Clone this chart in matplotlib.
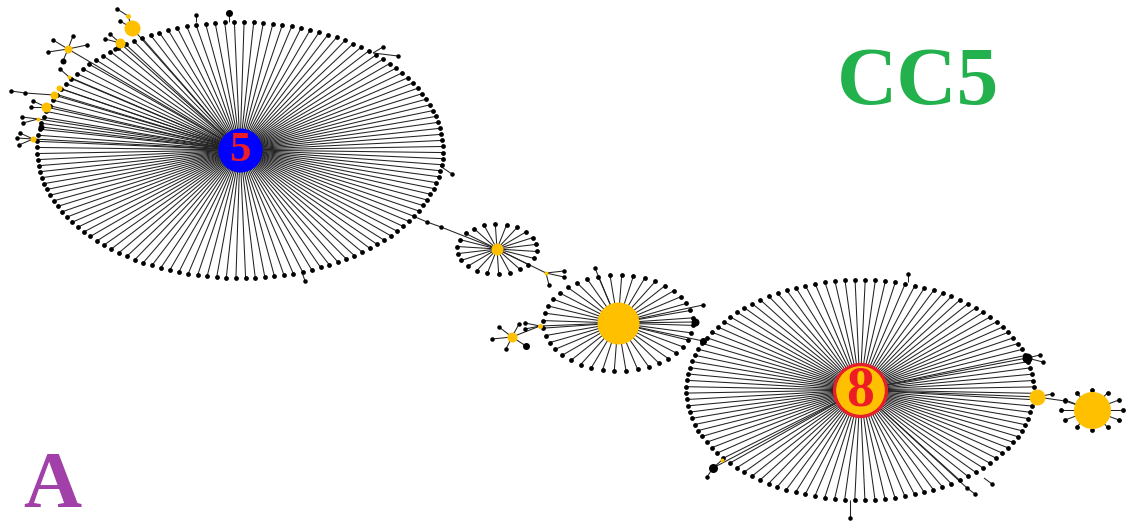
import numpy as np
import matplotlib
matplotlib.use("Agg")
import matplotlib.pyplot as plt
from matplotlib.collections import LineCollection

W, H = 1129, 525

# ---- star clusters: hub node + ring of leaf nodes (pixel layout) ----
hub_x = [240, 497, 618, 860, 1092]
hub_y = [150, 249, 323, 390, 410]
hub_d = [44, 12, 42, 52, 37]
hub_color = ["#0000FF", "#FFC000", "#FFC000", "#FFC000", "#FFC000"]
hub_edge = ["#0000FF", "#FFC000", "#FFC000", "#E4202C", "#FFC000"]
hub_label = ["5", "", "", "8", ""]
ring_rx = [203, 40, 75, 174, 31]
ring_ry = [128, 25, 48, 110, 20]
ring_n = [132, 22, 40, 108, 12]
ring_phase = [0.02, 0.1, 0.05, 0.03, 0.0]

# ---- satellite nodes (attached to a parent node) ----
sat_px = [240, 132, 128, 132, 240, 120, 120, 120, 240, 68, 68, 68, 68, 68,
          240, 69, 240, 240, 54, 25, 240, 46, 46, 240, 38, 38, 240, 240, 33, 33, 33,
          229, 196, 373, 373, 440, 302,
          413, 427, 441, 497, 546, 546, 546, 618, 540, 540, 540, 512, 512, 512, 512, 512,
          618, 618, 618, 618,
          860, 860, 1027, 1027, 1037, 1037, 1065, 860, 850, 908, 713, 713, 860, 967, 984]
sat_py = [150, 28, 16, 28, 150, 43, 43, 43, 150, 49, 49, 49, 49, 49,
          150, 77, 150, 150, 95, 93, 150, 107, 107, 150, 119, 119, 150, 150, 139, 139, 139,
          22, 22, 53, 53, 166, 272,
          216, 222, 227, 249, 273, 273, 273, 323, 326, 326, 326, 337, 337, 337, 337, 337,
          323, 323, 323, 323,
          390, 390, 358, 358, 397, 397, 401, 390, 500, 282, 468, 468, 390, 488, 478]
sat_x = [132, 128, 117, 120, 120, 110, 105, 115, 68, 53, 73, 87, 48, 63,
         69, 60, 59, 54, 25, 11, 46, 33, 31, 38, 22, 23, 41, 33, 20, 17, 19,
         229, 196, 383, 398, 452, 305,
         427, 441, 497, 546, 564, 564, 549, 540, 525, 525, 512, 499, 519, 492, 506, 526,
         595, 695, 703, 703,
         1027, 1037, 1040, 1043, 1052, 1065, 1092, 713, 850, 908, 707, 722, 967, 975, 992]
sat_y = [28, 16, 9, 21, 43, 34, 39, 49, 49, 40, 36, 45, 52, 61,
         77, 69, 88, 95, 93, 91, 107, 101, 107, 119, 117, 123, 127, 139, 133, 138, 145,
         13, 15, 47, 56, 174, 281,
         222, 227, 249, 273, 271, 277, 285, 326, 323, 329, 337, 327, 324, 339, 349, 346,
         268, 322, 305, 341,
         358, 397, 355, 362, 394, 401, 410, 468, 518, 274, 477, 460, 488, 494, 484]
sat_d = [16, 5, 4.5, 4.5, 10, 4.5, 4.5, 4.5, 8, 4.5, 4.5, 4.5, 4.5, 6,
         4, 4.5, 6, 8, 4.5, 4.5, 10, 4.5, 4.5, 4, 4.5, 4.5, 6, 6, 4.5, 4.5, 4.5,
         7, 4.5, 4.5, 4.5, 4.5, 4.5,
         4.5, 4.5, 0, 4, 4.5, 4.5, 4.5, 5, 4.5, 4.5, 10, 4.5, 4.5, 4.5, 4.5, 7,
         4.5, 8, 4.5, 7,
         10, 16, 4.5, 4.5, 4.5, 4.5, 0, 9, 4.5, 4.5, 4.5, 4, 4.5, 4.5, 4.5]
sat_yellow = [1, 1, 0, 0, 1, 0, 0, 0, 1, 0, 0, 0, 0, 0,
              1, 0, 1, 1, 0, 0, 1, 0, 0, 1, 0, 0, 0, 1, 0, 0, 0,
              0, 0, 0, 0, 0, 0,
              0, 0, 0, 1, 0, 0, 0, 1, 0, 0, 1, 0, 0, 0, 0, 0,
              0, 0, 0, 0,
              0, 1, 0, 0, 0, 0, 0, 0, 0, 0, 0, 1, 0, 0, 0]

# ---- text labels ----
title_text = "CC5"
panel_text = "A"

YELLOW = "#FFC000"
EDGE = "#222222"


def pt_size(d_px):
    return (d_px * 0.72) ** 2


fig = plt.figure(figsize=(W / 100, H / 100), dpi=100)
ax = fig.add_axes([0, 0, 1, 1])
ax.set_xlim(0, W)
ax.set_ylim(H, 0)
ax.axis("off")

segs = []
leaf_x, leaf_y = [], []
for cx, cy, rx, ry, n, ph in zip(hub_x, hub_y, ring_rx, ring_ry, ring_n, ring_phase):
    th = ph + 2 * np.pi * np.arange(n) / n
    lx = cx + rx * np.cos(th)
    ly = cy + ry * np.sin(th)
    for a, b in zip(lx, ly):
        segs.append([(cx, cy), (a, b)])
    leaf_x.extend(lx)
    leaf_y.extend(ly)

for px, py, x, y in zip(sat_px, sat_py, sat_x, sat_y):
    segs.append([(px, py), (x, y)])

ax.add_collection(LineCollection(segs, colors=EDGE, linewidths=0.75, zorder=1))

ax.scatter(leaf_x, leaf_y, s=pt_size(4.8), c="black", linewidths=0, zorder=2)

for x, y, d, yl in zip(sat_x, sat_y, sat_d, sat_yellow):
    if d <= 0:
        continue
    ax.scatter([x], [y], s=pt_size(d), c=YELLOW if yl else "black",
               linewidths=0, zorder=3)

for x, y, d, fc, ec, lab in zip(hub_x, hub_y, hub_d, hub_color, hub_edge, hub_label):
    lw = 2.4 if ec != fc else 0
    ax.scatter([x], [y], s=pt_size(d), c=fc, edgecolors=ec, linewidths=lw, zorder=4)
    if lab:
        fs = 31 if lab == "5" else 40
        ax.text(x, y + 1, lab, color="#EE1C25", fontsize=fs, fontweight="bold",
                family="Liberation Serif", ha="center", va="center", zorder=5)

ax.text(918, 104, title_text, color="#22B14C", fontsize=60, fontweight="bold",
        family="Liberation Serif", ha="center", va="baseline", zorder=5)
ax.text(52, 507, panel_text, color="#A040A8", fontsize=58, fontweight="bold",
        family="Liberation Serif", ha="center", va="baseline", zorder=5)

fig.savefig("out.png", dpi=100, facecolor="white")
